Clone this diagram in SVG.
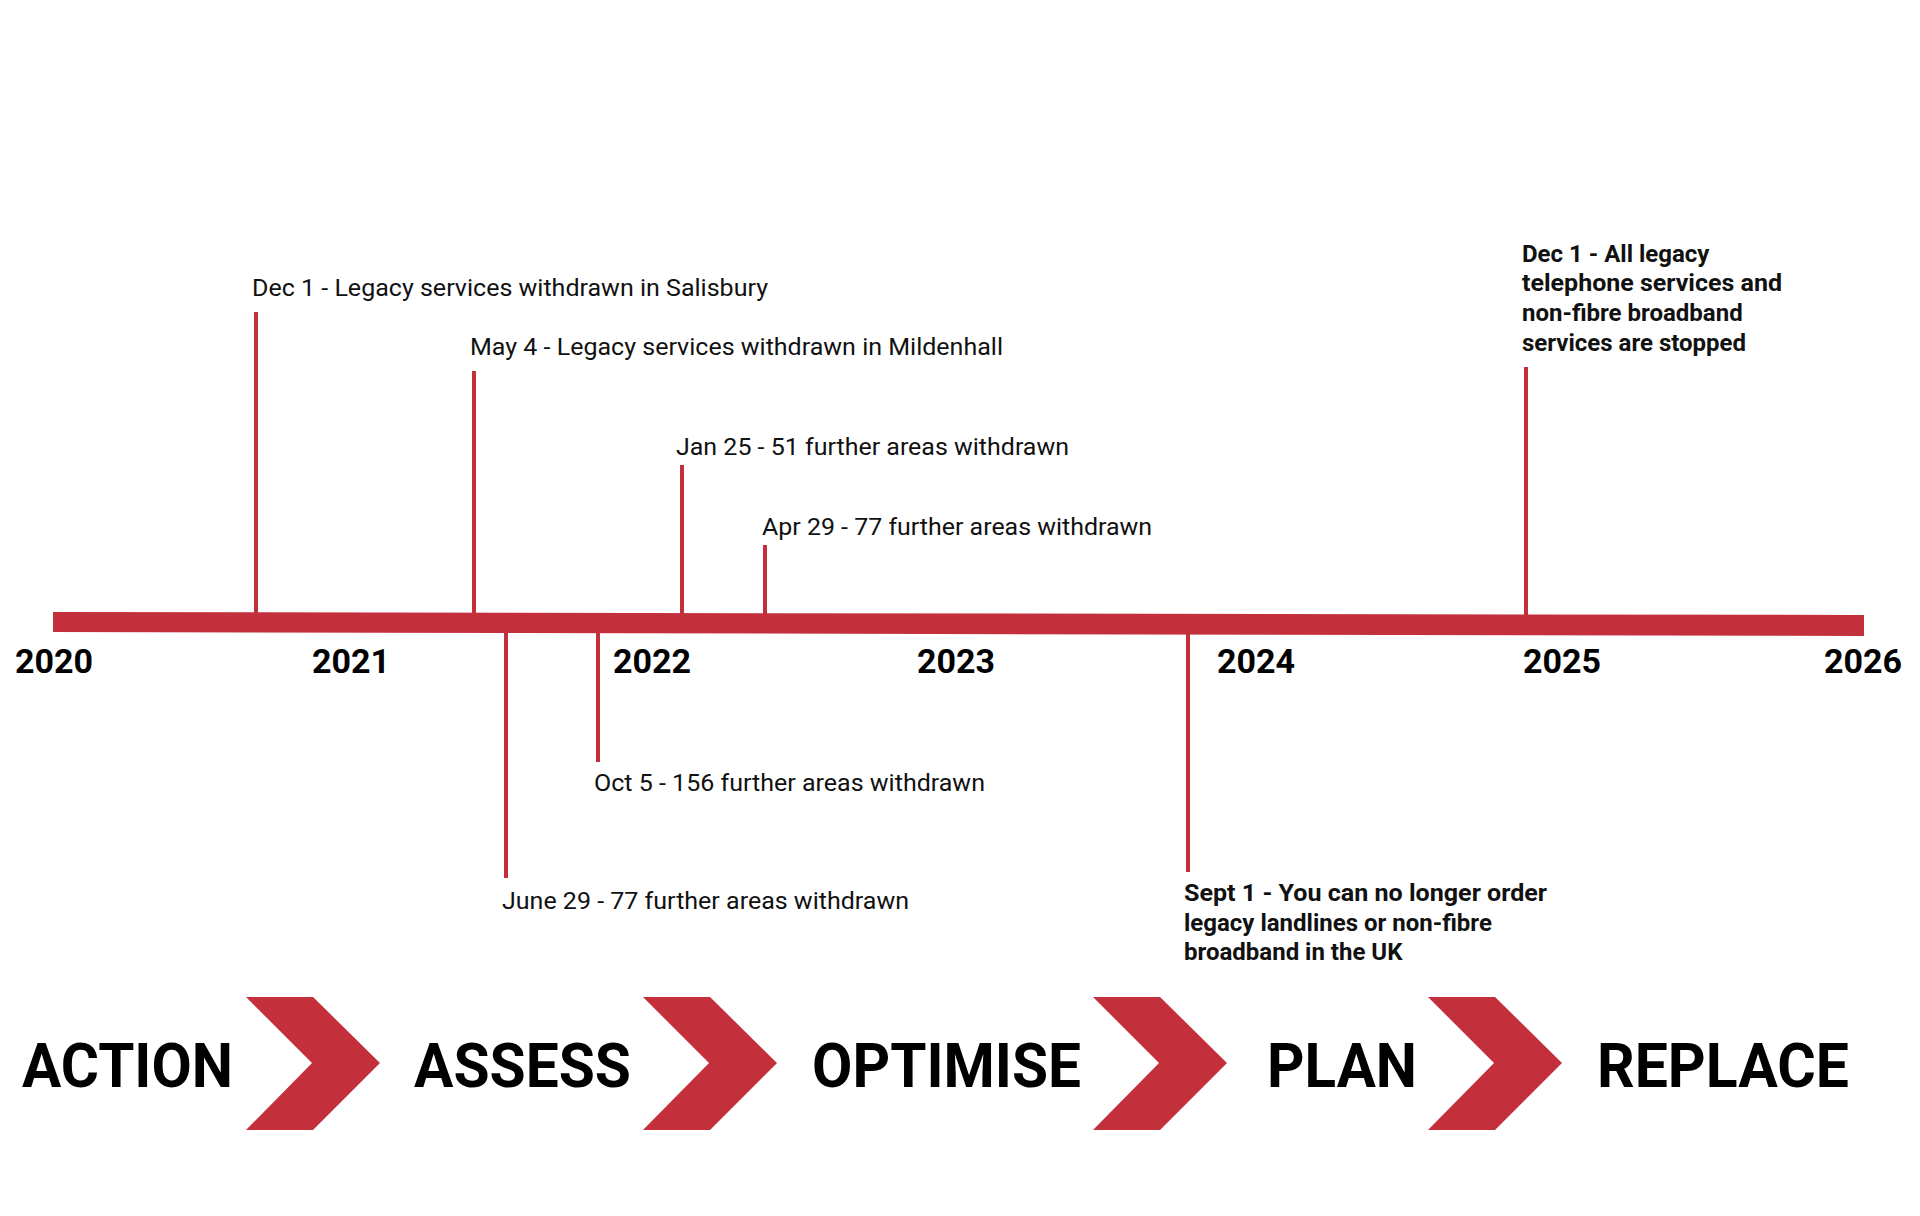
<svg xmlns="http://www.w3.org/2000/svg" width="1920" height="1216" viewBox="0 0 1920 1216">
<style>
.t{font-family:Roboto,"Liberation Sans",sans-serif;font-size:24px;fill:#111}
.b{font-family:Roboto,"Liberation Sans",sans-serif;font-size:24px;font-weight:bold;fill:#111}
.y{font-family:Roboto,"Liberation Sans",sans-serif;font-size:34px;font-weight:bold;fill:#000}
.w{font-family:Roboto,"Liberation Sans",sans-serif;font-size:62px;font-weight:bold;fill:#000}
.k{stroke:#c42f3c;stroke-width:4;fill:none}
.c{fill:#c42f3c}
</style>
<defs><polygon id="chev" points="246,997 313,997 380,1063 313,1130 246,1130 312,1063"/></defs>
<rect width="1920" height="1216" fill="#fff"/>
<g id="connectors">
<polygon class="c" points="53,612 1864,615 1864,636 53,632"/>
<line class="k" x1="256" y1="312" x2="256" y2="614"/>
<line class="k" x1="474" y1="371" x2="474" y2="614"/>
<line class="k" x1="682" y1="465" x2="682" y2="614"/>
<line class="k" x1="765" y1="545" x2="765" y2="614"/>
<line class="k" x1="1526" y1="367" x2="1526" y2="616"/>
<line class="k" x1="506" y1="630" x2="506" y2="878"/>
<line class="k" x1="598" y1="630" x2="598" y2="762"/>
<line class="k" x1="1188" y1="632" x2="1188" y2="872"/>
</g>
<g id="years">
<text class="y" x="15" y="673">2020</text>
<text class="y" x="312" y="673">2021</text>
<text class="y" x="613" y="673">2022</text>
<text class="y" x="917" y="673">2023</text>
<text class="y" x="1217" y="673">2024</text>
<text class="y" x="1523" y="673">2025</text>
<text class="y" x="1824" y="673">2026</text>
</g>
<g id="e1"><text class="t" x="252" y="296" textLength="516" lengthAdjust="spacingAndGlyphs">Dec 1 - Legacy services withdrawn in Salisbury</text></g>
<g id="e2"><text class="t" x="470" y="355" textLength="533" lengthAdjust="spacingAndGlyphs">May 4 - Legacy services withdrawn in Mildenhall</text></g>
<g id="e3"><text class="t" x="676" y="455" textLength="393" lengthAdjust="spacingAndGlyphs">Jan 25 - 51 further areas withdrawn</text></g>
<g id="e4"><text class="t" x="762" y="535" textLength="390" lengthAdjust="spacingAndGlyphs">Apr 29 - 77 further areas withdrawn</text></g>
<g id="e5"><text class="t" x="594" y="791" textLength="391" lengthAdjust="spacingAndGlyphs">Oct 5 - 156 further areas withdrawn</text></g>
<g id="e6"><text class="t" x="502" y="909" textLength="407" lengthAdjust="spacingAndGlyphs">June 29 - 77 further areas withdrawn</text></g>
<g id="e7">
<text class="b" x="1184" y="901" textLength="363" lengthAdjust="spacingAndGlyphs">Sept 1 - You can no longer order</text>
<text class="b" x="1184" y="931">legacy landlines or non-fibre</text>
<text class="b" x="1184" y="960">broadband in the UK</text>
</g>
<g id="e8">
<text class="b" x="1522" y="262">Dec 1 - All legacy</text>
<text class="b" x="1522" y="291" textLength="260" lengthAdjust="spacingAndGlyphs">telephone services and</text>
<text class="b" x="1522" y="321">non-fibre broadband</text>
<text class="b" x="1522" y="351">services are stopped</text>
</g>
<g id="phases">
<text class="w" x="22" y="1087" textLength="211" lengthAdjust="spacingAndGlyphs">ACTION</text>
<use href="#chev" class="c"/>
<text class="w" x="414" y="1087" textLength="217" lengthAdjust="spacingAndGlyphs">ASSESS</text>
<use href="#chev" class="c" x="397"/>
<text class="w" x="812" y="1087" textLength="269" lengthAdjust="spacingAndGlyphs">OPTIMISE</text>
<use href="#chev" class="c" x="847"/>
<text class="w" x="1267" y="1087" textLength="150" lengthAdjust="spacingAndGlyphs">PLAN</text>
<use href="#chev" class="c" x="1182"/>
<text class="w" x="1597" y="1087" textLength="252" lengthAdjust="spacingAndGlyphs">REPLACE</text>
</g>
</svg>
